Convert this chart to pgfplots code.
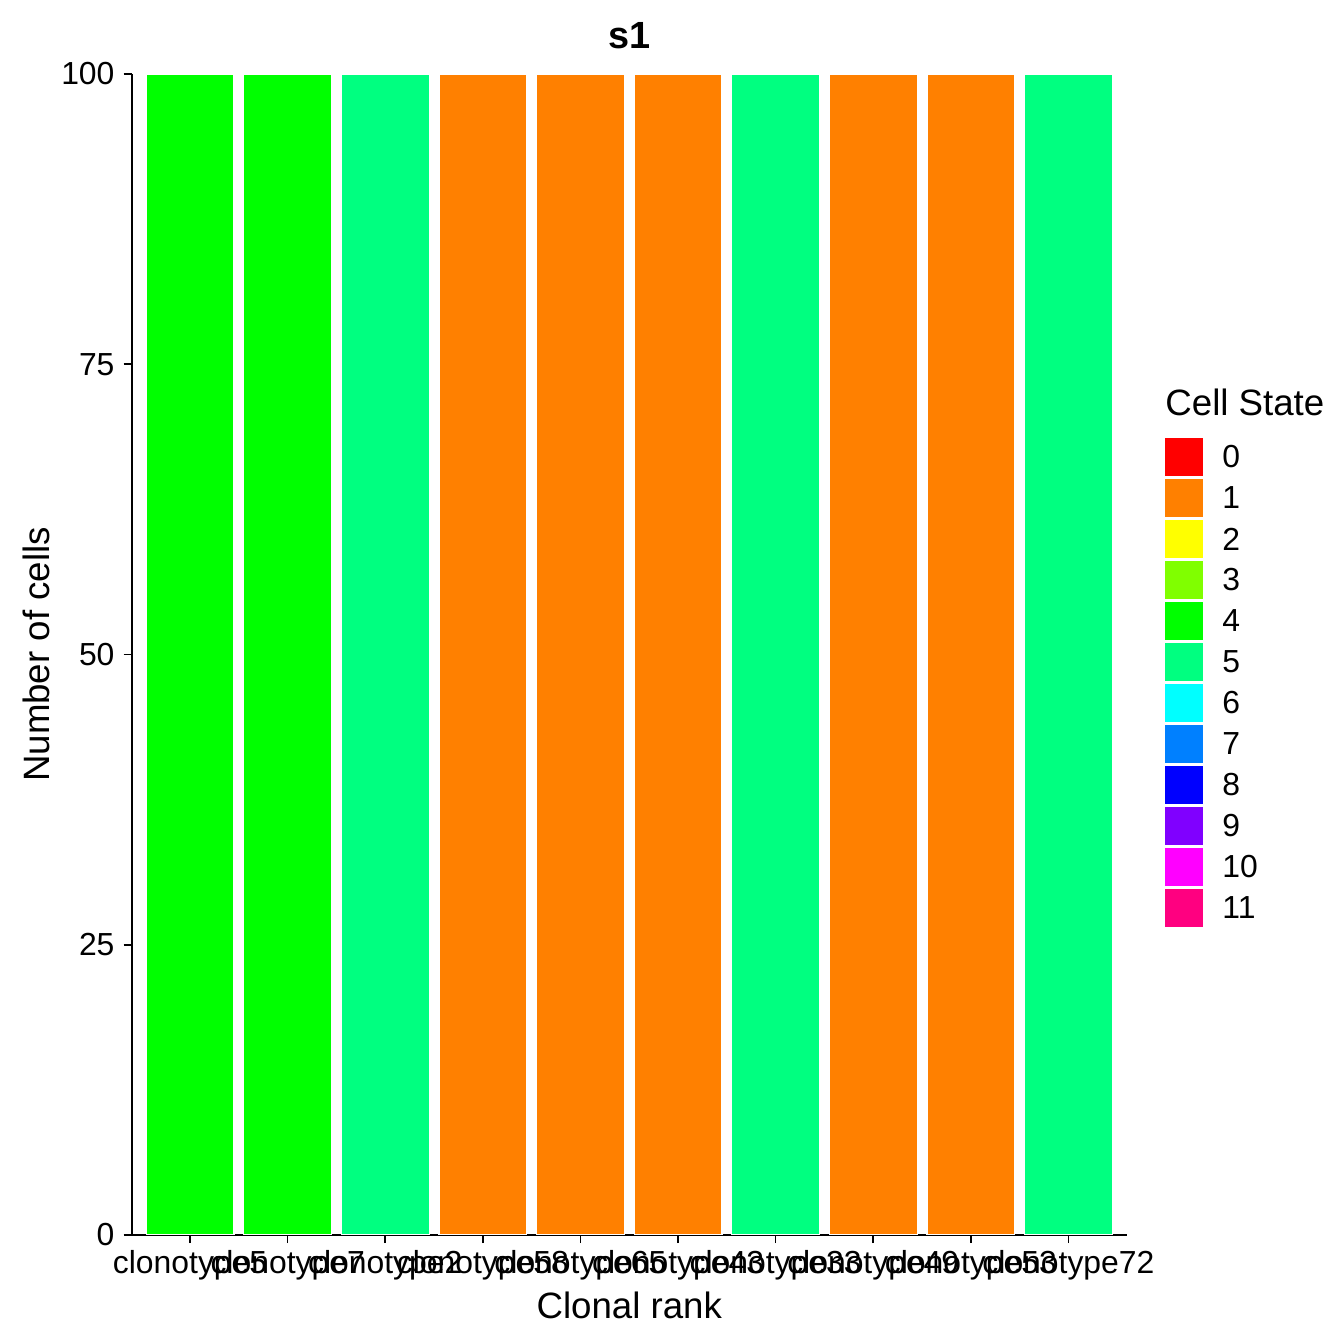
\documentclass[border=0pt]{standalone}
\usepackage{fontspec}
\setmainfont{Liberation Sans}
\usepackage{pgfplots}
\pgfplotsset{compat=1.18}
\definecolor{c0}{HTML}{FF0000}
\definecolor{c1}{HTML}{FF8000}
\definecolor{c2}{HTML}{FFFF00}
\definecolor{c3}{HTML}{80FF00}
\definecolor{c4}{HTML}{00FF00}
\definecolor{c5}{HTML}{00FF80}
\definecolor{c6}{HTML}{00FFFF}
\definecolor{c7}{HTML}{0080FF}
\definecolor{c8}{HTML}{0000FF}
\definecolor{c9}{HTML}{8000FF}
\definecolor{c10}{HTML}{FF00FF}
\definecolor{c11}{HTML}{FF0080}
\begin{document}
\begin{tikzpicture}
\useasboundingbox (0,0) rectangle (672bp,672bp);
\begin{axis}[
  at={(65.75bp,54.5bp)}, anchor=south west,
  scale only axis, width=497.75bp, height=580.5bp,
  xmin=0.4, xmax=10.6, ymin=0, ymax=100,
  axis x line*=bottom, axis y line*=left,
  axis line style={black, line width=1bp, -},
  xtick={1,...,10},
  xticklabels={clonotype5,clonotype7,clonotype2,clonotype58,clonotype65,clonotype43,clonotype33,clonotype49,clonotype53,clonotype72},
  ytick={0,25,50,75,100},
  tick align=outside, major tick length=4bp,
  tick style={black, line width=0.8bp},
  /pgf/number format/assume math mode=true,
  ticklabel style={font=\fontsize{16}{19}\selectfont, black},
  xticklabel style={yshift=0bp},
  yticklabel style={xshift=-1bp},
  xlabel={Clonal rank}, ylabel={Number of cells},
  label style={font=\fontsize{18.4}{22}\selectfont},
  xlabel style={yshift=1bp},
  ylabel style={yshift=-1bp},
  title={\textbf{s1}},
  title style={font=\fontsize{19}{23}\selectfont, yshift=3bp},
  ybar, bar width=0.9, bar shift=0pt,
  every axis plot/.append style={draw=white, line width=0.6bp},
]
\addplot[fill=c4] coordinates {(1,100) (2,100)};
\addplot[fill=c5] coordinates {(3,100) (7,100) (10,100)};
\addplot[fill=c1] coordinates {(4,100) (5,100) (6,100) (8,100) (9,100)};
\end{axis}
\node[anchor=west, inner sep=0pt, font=\fontsize{18.4}{22}\selectfont] at (582.5bp,471bp) {Cell State};
\foreach \i in {0,...,11}{
  \fill[c\i] (582.5bp,{(443.5-20.5*\i-9.5)*1bp}) rectangle (601.5bp,{(443.5-20.5*\i+9.5)*1bp});
  \node[anchor=west, inner sep=0pt, font=\fontsize{16}{19}\selectfont] at (611bp,{(443.5-20.5*\i)*1bp}) {\i};
}
\end{tikzpicture}
\end{document}
